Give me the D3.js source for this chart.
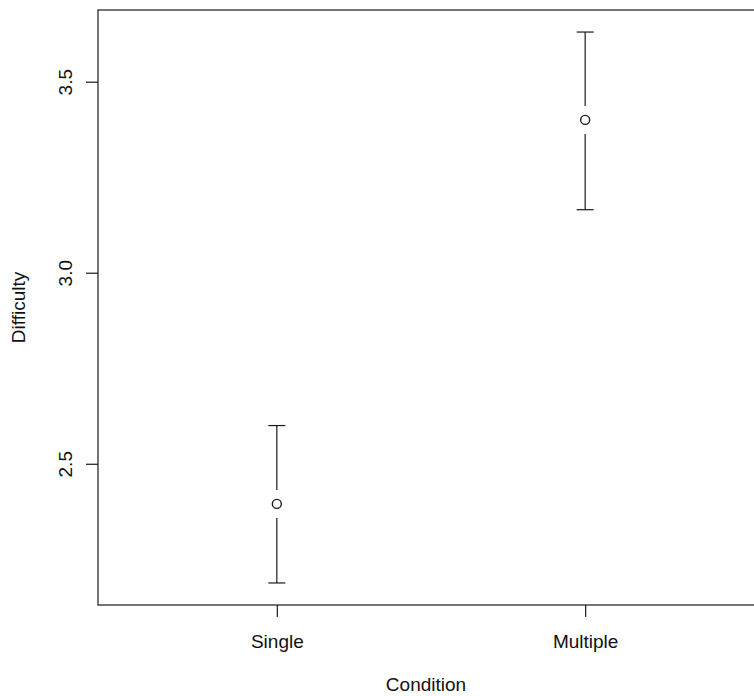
<!DOCTYPE html>
<html>
<head>
<meta charset="utf-8">
<script src="https://cdn.jsdelivr.net/npm/d3@7"></script>
<style>
  body { margin: 0; background: #fff; }
  svg { display: block; }
  text { font-family: "Liberation Sans", Arial, Helvetica, sans-serif; fill: #111; }
</style>
</head>
<body>
<svg id="chart"></svg>
<script>
// data
const categories = ['Single', 'Multiple'];
const means = [2.395, 3.40];
const upper = [2.60, 3.63];
const lower = [2.188, 3.165];
const yTicks = [2.5, 3.0, 3.5];

const W = 754, H = 696;
const plot = {left: 98, top: 10, right: 764, bottom: 605};
const ink = '#1a1a1a';
const fontSize = 19;

const svg = d3.select('#chart').attr('width', W).attr('height', H);

// R style 4% padding on both axes
const yMin = d3.min(lower), yMax = d3.max(upper);
const yPad = (yMax - yMin) * 0.04;
const y = d3.scaleLinear()
  .domain([yMin - yPad, yMax + yPad])
  .range([plot.bottom, plot.top]);

const xPad = categories.length * 0.04;
const x = d3.scaleLinear()
  .domain([0.5 - xPad, categories.length + 0.5 + xPad])
  .range([plot.left, plot.right]);

// box
svg.append('rect')
  .attr('x', plot.left).attr('y', plot.top)
  .attr('width', plot.right - plot.left).attr('height', plot.bottom - plot.top)
  .attr('fill', 'none').attr('stroke', ink).attr('stroke-width', 1.2);

// y axis
const yAxis = d3.axisLeft(y)
  .tickValues(yTicks)
  .tickFormat(d3.format('.1f'))
  .tickSizeInner(12).tickSizeOuter(0).tickPadding(0);
const gy = svg.append('g')
  .attr('transform', 'translate(' + plot.left + ',0)')
  .call(yAxis);
gy.select('.domain').remove();
gy.selectAll('line').attr('stroke', ink).attr('stroke-width', 1.2);
gy.selectAll('text')
  .attr('x', 0).attr('y', 0).attr('dy', 0)
  .attr('transform', 'translate(-26,0) rotate(-90)')
  .attr('text-anchor', 'middle')
  .style('font-size', fontSize + 'px')
  .style('font-family', '"Liberation Sans", Arial, sans-serif')
  .attr('fill', '#111');

// x axis
const xAxis = d3.axisBottom(x)
  .tickValues(categories.map((c, i) => i + 1))
  .tickFormat((d, i) => categories[i])
  .tickSizeInner(12).tickSizeOuter(0).tickPadding(0);
const gx = svg.append('g')
  .attr('transform', 'translate(0,' + plot.bottom + ')')
  .call(xAxis);
gx.select('.domain').remove();
gx.selectAll('line').attr('stroke', ink).attr('stroke-width', 1.2);
gx.selectAll('text')
  .attr('y', 43).attr('dy', 0)
  .style('font-size', fontSize + 'px')
  .style('font-family', '"Liberation Sans", Arial, sans-serif')
  .attr('fill', '#111');

// axis titles
svg.append('text')
  .attr('x', (plot.left + plot.right) / 2 - 5).attr('y', 691)
  .attr('text-anchor', 'middle')
  .style('font-size', fontSize + 'px')
  .text('Condition');

svg.append('text')
  .attr('transform', 'translate(25,' + ((plot.top + plot.bottom) / 2) + ') rotate(-90)')
  .attr('text-anchor', 'middle')
  .style('font-size', fontSize + 'px')
  .text('Difficulty');

// error bars with a gap around the point
const gap = 14, capW = 8.5, r = 4.5;
const g = svg.append('g');
categories.forEach((c, i) => {
  const cx = x(i + 1);
  const cy = y(means[i]);
  g.append('line')
    .attr('x1', cx).attr('x2', cx)
    .attr('y1', y(upper[i])).attr('y2', cy - gap)
    .attr('stroke', ink).attr('stroke-width', 1.2);
  g.append('line')
    .attr('x1', cx).attr('x2', cx)
    .attr('y1', cy + gap).attr('y2', y(lower[i]))
    .attr('stroke', ink).attr('stroke-width', 1.2);
  [upper[i], lower[i]].forEach(v => {
    g.append('line')
      .attr('x1', cx - capW).attr('x2', cx + capW)
      .attr('y1', y(v)).attr('y2', y(v))
      .attr('stroke', ink).attr('stroke-width', 1.2);
  });
  g.append('circle')
    .attr('cx', cx).attr('cy', cy).attr('r', r)
    .attr('fill', 'none').attr('stroke', ink).attr('stroke-width', 1.4);
});
</script>
</body>
</html>
